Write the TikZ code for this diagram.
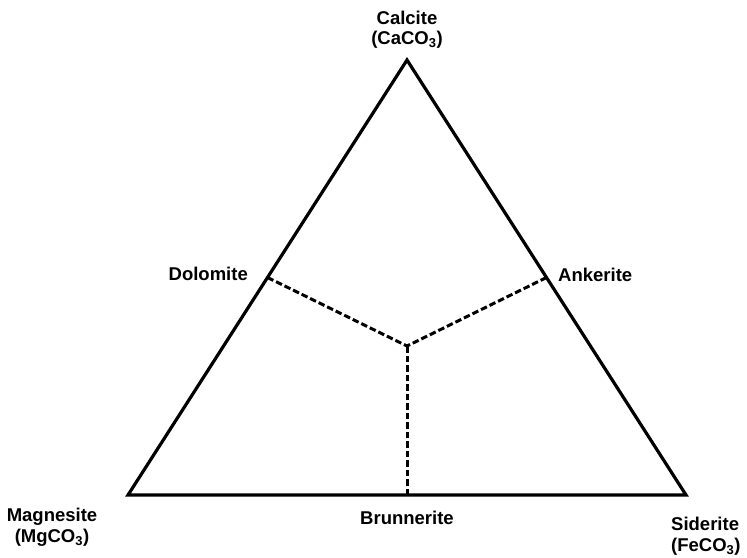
\documentclass[tikz,border=0pt]{standalone}
\usepackage{fontspec}
\setmainfont{Liberation Sans}
\usetikzlibrary{calc}
\begin{document}
\begin{tikzpicture}[x=1pt,y=-1pt,
  lbl/.style={font=\fontsize{18.5}{20.5}\selectfont\bfseries, inner sep=0pt, align=center},
  edge/.style={line width=3.2pt, line join=miter},
  divider/.style={line width=3pt, dash pattern=on 6.5pt off 3pt}]
\useasboundingbox[fill=white] (0,0) rectangle (747,557);
\coordinate (ca) at (407,60);
\coordinate (mg) at (128,495);
\coordinate (fe) at (686,495);
\coordinate (dol) at ($(ca)!0.5!(mg)$);
\coordinate (ank) at ($(ca)!0.5!(fe)$);
\coordinate (bru) at ($(mg)!0.5!(fe)$);
\coordinate (ctr) at (407,346);
\draw[edge] (ca) -- (mg) -- (fe) -- cycle;
\draw[divider] (dol) -- (ctr);
\draw[divider] (ank) -- (ctr);
\draw[divider] (bru) -- (ctr);
\node[lbl] (lca) at (407,29.5) {Calcite\\(CaCO\textsubscript{3})};
\node[lbl] (lmg) at (52,527) {Magnesite\\(MgCO\textsubscript{3})};
\node[lbl, anchor=west, align=left] (lfe) at (671,536) {Siderite\\(FeCO\textsubscript{3})};
\node[lbl, anchor=east] (ldol) at (248,274) {Dolomite};
\node[lbl, anchor=west] (lank) at (558,275) {Ankerite};
\node[lbl] (lbru) at (407,518) {Brunnerite};
\end{tikzpicture}
\end{document}
